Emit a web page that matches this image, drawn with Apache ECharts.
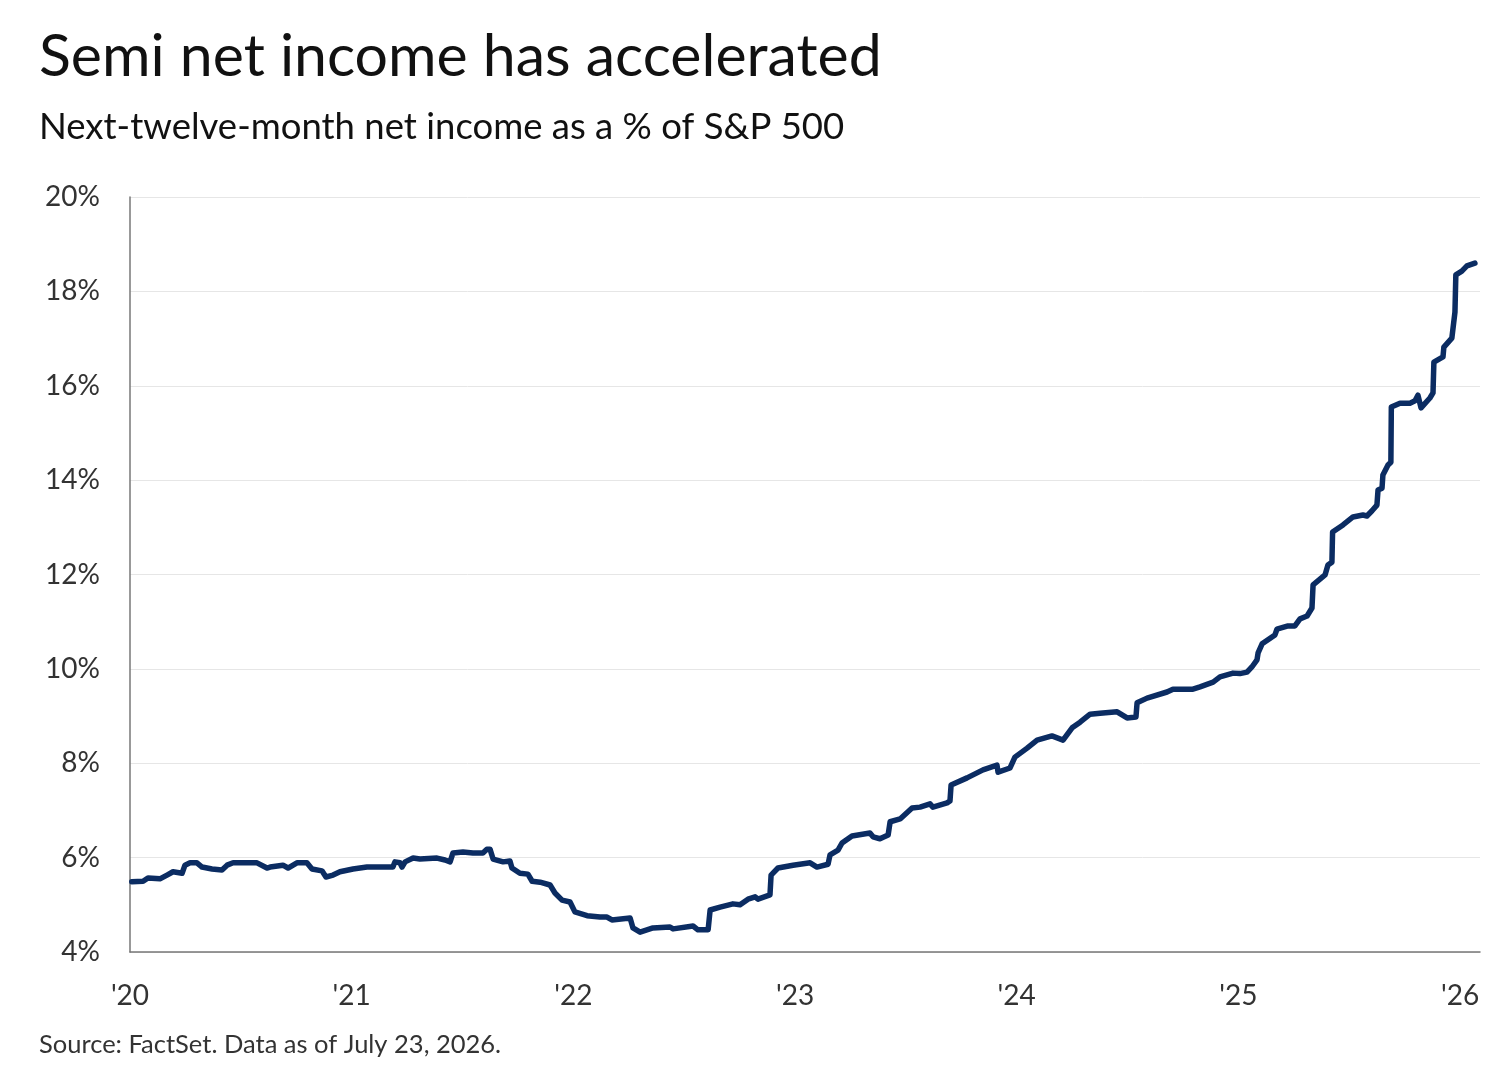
<!DOCTYPE html>
<html>
<head>
<meta charset="utf-8">
<script src="https://cdn.jsdelivr.net/npm/echarts@6/dist/echarts.min.js"></script>
<style>
  html, body { margin: 0; padding: 0; background: #fff; }
  #chart { width: 1504px; height: 1085px; }
</style>
</head>
<body>
<div id="chart"></div>
<script>
// x positions in years (2020 = start of '20)
var yearPos = [
  2020.008, 2020.059, 2020.081, 2020.135, 2020.167, 2020.194, 2020.235, 2020.248, 2020.271, 2020.302,
  2020.325, 2020.370, 2020.415, 2020.438, 2020.465, 2020.573, 2020.618, 2020.632, 2020.690, 2020.713,
  2020.753, 2020.798, 2020.821, 2020.866, 2020.884, 2020.916, 2020.947, 2021.006, 2021.069, 2021.159,
  2021.186, 2021.195, 2021.218, 2021.227, 2021.241, 2021.277, 2021.308, 2021.385, 2021.421, 2021.444,
  2021.457, 2021.502, 2021.547, 2021.592, 2021.610, 2021.624, 2021.638, 2021.683, 2021.714, 2021.723,
  2021.759, 2021.795, 2021.814, 2021.850, 2021.895, 2021.917, 2021.949, 2021.985, 2022.007, 2022.062,
  2022.120, 2022.152, 2022.174, 2022.256, 2022.269, 2022.301, 2022.359, 2022.436, 2022.450, 2022.540,
  2022.562, 2022.608, 2022.617, 2022.662, 2022.720, 2022.752, 2022.788, 2022.820, 2022.833, 2022.887,
  2022.892, 2022.923, 2022.991, 2023.068, 2023.099, 2023.149, 2023.158, 2023.194, 2023.212, 2023.257,
  2023.338, 2023.352, 2023.383, 2023.420, 2023.429, 2023.474, 2023.528, 2023.564, 2023.609, 2023.622,
  2023.686, 2023.699, 2023.704, 2023.776, 2023.848, 2023.911, 2023.916, 2023.970, 2023.992, 2024.047,
  2024.092, 2024.159, 2024.209, 2024.250, 2024.286, 2024.331, 2024.376, 2024.453, 2024.498, 2024.538,
  2024.543, 2024.588, 2024.678, 2024.705, 2024.795, 2024.827, 2024.886, 2024.917, 2024.976, 2025.007,
  2025.039, 2025.061, 2025.084, 2025.089, 2025.107, 2025.165, 2025.174, 2025.224, 2025.255, 2025.278,
  2025.310, 2025.332, 2025.337, 2025.391, 2025.404, 2025.422, 2025.425, 2025.472, 2025.517, 2025.562,
  2025.580, 2025.603, 2025.625, 2025.630, 2025.648, 2025.652, 2025.675, 2025.688, 2025.690, 2025.729,
  2025.774, 2025.797, 2025.810, 2025.824, 2025.864, 2025.878, 2025.882, 2025.923, 2025.927, 2025.963,
  2025.977, 2025.981, 2026.008, 2026.031, 2026.067
];
// semi NTM net income as % of S&P 500
var semiShare = [
  5.49, 5.50, 5.57, 5.55, 5.63, 5.70, 5.67, 5.84, 5.89, 5.89,
  5.80, 5.76, 5.74, 5.84, 5.89, 5.89, 5.78, 5.80, 5.84, 5.78,
  5.89, 5.89, 5.76, 5.72, 5.59, 5.63, 5.70, 5.76, 5.80, 5.80,
  5.80, 5.91, 5.89, 5.80, 5.91, 5.99, 5.97, 5.99, 5.95, 5.91,
  6.10, 6.12, 6.10, 6.10, 6.18, 6.18, 5.97, 5.91, 5.93, 5.78,
  5.67, 5.65, 5.50, 5.48, 5.42, 5.25, 5.10, 5.06, 4.85, 4.77,
  4.74, 4.74, 4.68, 4.72, 4.51, 4.42, 4.51, 4.53, 4.49, 4.55,
  4.47, 4.47, 4.89, 4.95, 5.02, 5.00, 5.12, 5.17, 5.12, 5.21,
  5.63, 5.78, 5.84, 5.89, 5.80, 5.86, 6.06, 6.16, 6.31, 6.46,
  6.52, 6.44, 6.40, 6.48, 6.76, 6.82, 7.05, 7.07, 7.14, 7.07,
  7.16, 7.20, 7.54, 7.69, 7.86, 7.96, 7.81, 7.90, 8.13, 8.32,
  8.49, 8.58, 8.49, 8.75, 8.87, 9.04, 9.06, 9.09, 8.96, 8.98,
  9.28, 9.38, 9.51, 9.57, 9.57, 9.62, 9.72, 9.83, 9.91, 9.90,
  9.93, 10.04, 10.19, 10.34, 10.53, 10.72, 10.84, 10.91, 10.91, 11.06,
  11.12, 11.29, 11.78, 11.99, 12.20, 12.26, 12.90, 13.05, 13.22, 13.26,
  13.24, 13.35, 13.47, 13.79, 13.83, 14.11, 14.32, 14.38, 15.55, 15.63,
  15.63, 15.68, 15.80, 15.53, 15.74, 15.85, 16.50, 16.61, 16.82, 17.01,
  17.56, 18.35, 18.43, 18.54, 18.60
];
var yTicks = [4, 6, 8, 10, 12, 14, 16, 18, 20];
var xTickYears = [2020, 2021, 2022, 2023, 2024, 2025, 2026];

var font = 'Lato';
var chart = echarts.init(document.getElementById('chart'), null, { renderer: 'canvas' });

var points = yearPos.map(function (x, i) { return [x, semiShare[i]]; });

var option = {
  backgroundColor: '#ffffff',
  animation: false,
  title: [
    {
      text: 'Semi net income has accelerated',
      left: 34, top: 22,
      textStyle: { fontFamily: font, fontSize: 59, fontWeight: 'normal', color: '#111' }
    },
    {
      text: 'Next-twelve-month net income as a % of S&P 500',
      left: 34, top: 104,
      textStyle: { fontFamily: font, fontSize: 36.5, fontWeight: 'normal', color: '#111' }
    },
    {
      text: 'Source: FactSet. Data as of July 23, 2026.',
      left: 34, top: 1027,
      textStyle: { fontFamily: font, fontSize: 25.5, fontWeight: 'normal', color: '#333' }
    }
  ],
  grid: { left: 130, right: 24, top: 197, bottom: 133, containLabel: false },
  xAxis: {
    type: 'value',
    min: xTickYears[0],
    max: 2026.09,
    interval: 1,
    axisLine: { show: true, lineStyle: { color: '#777', width: 1.5 } },
    axisTick: { show: false },
    splitLine: { show: false },
    axisLabel: {
      margin: 30,
      fontFamily: font, fontSize: 28, color: '#333',
      showMaxLabel: false,
      formatter: function (v) {
        return xTickYears.indexOf(v) >= 0 ? "'" + String(v).slice(2) : '';
      }
    }
  },
  yAxis: {
    type: 'value',
    min: yTicks[0],
    max: yTicks[yTicks.length - 1],
    interval: 2,
    axisLine: { show: true, lineStyle: { color: '#777', width: 1.5 } },
    axisTick: { show: false },
    splitLine: { show: true, lineStyle: { color: '#e6e6e6', width: 1 } },
    axisLabel: {
      margin: 30,
      fontFamily: font, fontSize: 28, color: '#333',
      formatter: '{value}%'
    }
  },
  series: [
    {
      type: 'line',
      data: points,
      showSymbol: false,
      lineStyle: { color: '#0b2c62', width: 5.5, join: 'round', cap: 'round' },
      z: 3
    }
  ]
};

chart.setOption(option);
</script>
</body>
</html>
